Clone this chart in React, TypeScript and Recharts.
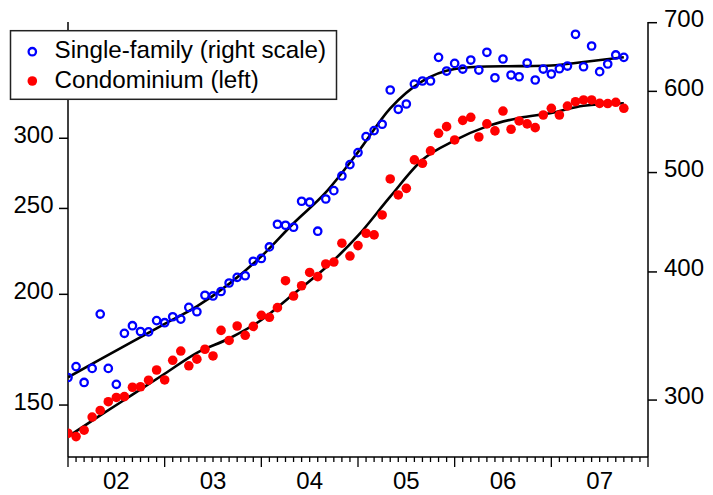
import { ComposedChart, Scatter, Line, XAxis, YAxis, Legend } from "recharts";

const FONT = '"Liberation Sans", Arial, Helvetica, sans-serif';

// monthly observations, first point = month 0
const singleFamily = [
  315.6, 323.4, 312.1, 322.1, 363.9, 322.1, 310.8, 348.5, 354.5, 349.9,
  349.6, 358.6, 356.9, 361.7, 359.8, 369.4, 365.8, 379.6, 379.0, 382.8,
  390.2, 395.2, 396.6, 409.7, 412.3, 423.1, 445.2, 444.2, 442.2, 468.8,
  467.8, 438.3, 471.2, 480.1, 496.2, 509.0, 522.9, 542.0, 549.4, 557.3,
  601.8, 576.3, 583.2, 609.9, 614.1, 614.1, 647.6, 628.0, 638.9, 630.8,
  643.7, 629.4, 655.0, 618.6, 645.2, 622.4, 620.0, 639.4, 615.5, 630.8,
  623.8, 631.3, 635.1, 682.0, 634.1, 664.3, 627.1, 638.0, 651.1, 647.6,
];

const condo = [
  139.4, 138.2, 140.5, 145.4, 147.9, 151.3, 153.0, 153.3, 157.1, 157.3,
  160.0, 164.3, 160.1, 168.5, 172.6, 166.1, 169.0, 173.4, 170.4, 182.1,
  177.4, 184.2, 179.8, 184.0, 189.4, 188.4, 193.2, 207.2, 199.1, 204.5,
  211.7, 209.4, 216.4, 217.5, 228.4, 220.9, 227.0, 234.4, 233.4, 245.8,
  269.9, 258.9, 263.4, 283.6, 281.1, 290.3, 303.9, 309.2, 298.7, 314.3,
  316.8, 301.0, 311.4, 305.8, 322.0, 307.1, 313.8, 311.4, 308.4, 318.7,
  324.3, 318.7, 326.2, 329.9, 331.4, 331.4, 328.5, 328.3, 329.4, 324.3,
];

// smoothed trends
const trendMonths = [0, 4, 8, 12, 16, 20, 24, 28, 32, 36, 40, 44, 48, 52, 56, 60, 64, 69];
const singleFamilyTrend = [
  315.7, 328.7, 342.1, 355.9, 370.2, 389.4, 414.2, 446.2, 478.2, 523.5,
  577.4, 613.8, 630.8, 634.5, 634.9, 635.9, 640.9, 647.7,
];
const condoTrend = [
  138.2, 146.0, 154.1, 162.7, 171.8, 178.3, 187.1, 200.2, 214.4, 232.9,
  257.8, 283.7, 298.3, 309.4, 316.3, 320.4, 326.5, 328.6,
];

const yearLabels = ["02", "03", "04", "05", "06", "07"];
const monthTicks = Array.from({ length: 73 }, (_, i) => i);
const leftTicks = [150, 200, 250, 300];
const rightTicks = [300, 400, 500, 600, 700];

const sfRows = singleFamily.map((v, i) => ({ m: i, v }));
const condoRows = condo.map((v, i) => ({ m: i, v }));
const sfTrendRows = trendMonths.map((m, i) => ({ m, v: singleFamilyTrend[i] }));
const condoTrendRows = trendMonths.map((m, i) => ({ m, v: condoTrend[i] }));

function MonthTick({ x, y, payload }: any) {
  const m = payload.value;
  const label = m % 12 === 6 ? yearLabels[(m - 6) / 12] : null;
  return (
    <g>
      <line x1={x} x2={x} y1={y} y2={y + (m % 12 === 0 ? 10 : 5)} stroke="#000" strokeWidth={1.3} />
      {label && (
        <text x={x} y={y + 32} textAnchor="middle" fontSize={24} fontFamily={FONT} fill="#000">
          {label}
        </text>
      )}
    </g>
  );
}

function LeftTick({ x, y, payload }: any) {
  return (
    <g>
      <line x1={x - 9} x2={x} y1={y} y2={y} stroke="#000" strokeWidth={1.5} />
      <text x={x - 14.5} y={y + 4.7} textAnchor="end" fontSize={24} fontFamily={FONT} fill="#000">
        {payload.value}
      </text>
    </g>
  );
}

function RightTick({ x, y, payload }: any) {
  return (
    <g>
      <line x1={x} x2={x + 9} y1={y} y2={y} stroke="#000" strokeWidth={1.5} />
      <text x={x + 16} y={y + 4.3} textAnchor="start" fontSize={24} fontFamily={FONT} fill="#000">
        {payload.value}
      </text>
    </g>
  );
}

const Ring = ({ cx, cy }: any) => (
  <circle cx={cx} cy={cy} r={3.7} fill="none" stroke="#0000ff" strokeWidth={2.3} />
);
const Dot = ({ cx, cy }: any) => <circle cx={cx} cy={cy} r={4.8} fill="#ff0000" />;

function LegendBox() {
  return (
    <svg width={340} height={102} style={{ display: "block" }}>
      <rect x={10.5} y={30.7} width={326} height={68.6} fill="#fff" stroke="#222" strokeWidth={1.5} />
      <circle cx={32.3} cy={51.7} r={3.7} fill="none" stroke="#0000ff" strokeWidth={2.3} />
      <circle cx={32.3} cy={81} r={4.8} fill="#ff0000" />
      <text x={54.5} y={58.3} fontSize={24.2} fontFamily={FONT} fill="#000">
        Single-family (right scale)
      </text>
      <text x={54.5} y={88.3} fontSize={24.2} fontFamily={FONT} fill="#000">
        Condominium (left)
      </text>
    </svg>
  );
}

export default function App() {
  return (
    <div style={{ position: "absolute", left: 0, top: 0, width: 713, height: 495, background: "#fff", fontFamily: FONT }}>
      <ComposedChart width={713} height={495} margin={{ top: 22, right: 0, bottom: 0, left: 0 }}>
        <XAxis
          type="number"
          dataKey="m"
          domain={[0, 72]}
          allowDataOverflow
          ticks={monthTicks}
          interval={0}
          height={38}
          tickSize={0}
          tickMargin={0}
          tickLine={false}
          axisLine={{ stroke: "#000", strokeWidth: 1.5 }}
          tick={<MonthTick />}
        />
        <YAxis
          yAxisId="left"
          dataKey="v"
          scale="log"
          domain={[131.06, 405.8]}
          allowDataOverflow
          ticks={leftTicks}
          interval={0}
          width={68}
          tickSize={0}
          tickMargin={0}
          tickLine={false}
          axisLine={{ stroke: "#000", strokeWidth: 1.5 }}
          tick={<LeftTick />}
        />
        <YAxis
          yAxisId="right"
          orientation="right"
          dataKey="v"
          scale="log"
          domain={[264.0, 701.1]}
          allowDataOverflow
          ticks={rightTicks}
          interval={0}
          width={65}
          tickSize={0}
          tickMargin={0}
          tickLine={false}
          axisLine={{ stroke: "#000", strokeWidth: 1.5 }}
          tick={<RightTick />}
        />
        <Scatter yAxisId="right" data={sfRows} shape={<Ring />} isAnimationActive={false} />
        <Scatter yAxisId="left" data={condoRows} shape={<Dot />} isAnimationActive={false} />
        <Line
          yAxisId="right"
          data={sfTrendRows}
          dataKey="v"
          type="monotone"
          stroke="#000"
          strokeWidth={2.6}
          dot={false}
          activeDot={false}
          isAnimationActive={false}
        />
        <Line
          yAxisId="left"
          data={condoTrendRows}
          dataKey="v"
          type="monotone"
          stroke="#000"
          strokeWidth={2.6}
          dot={false}
          activeDot={false}
          isAnimationActive={false}
        />
        <Legend
          layout="vertical"
          align="center"
          verticalAlign="middle"
          wrapperStyle={{ left: 0, top: 0, width: 340, height: 102 }}
          content={() => <LegendBox />}
        />
      </ComposedChart>
    </div>
  );
}
